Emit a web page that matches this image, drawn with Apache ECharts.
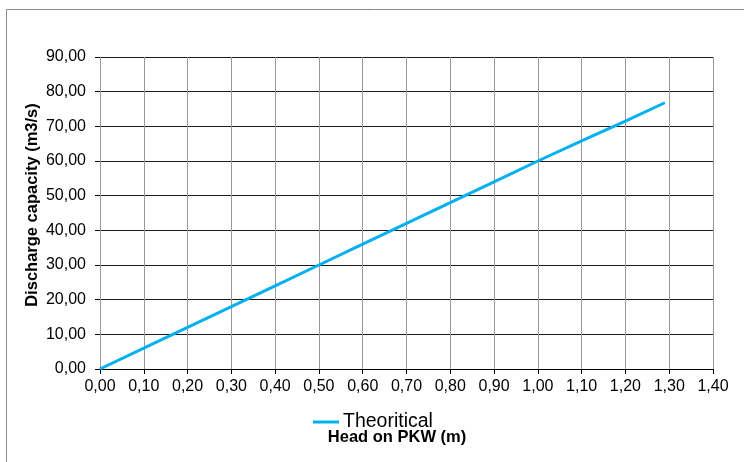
<!DOCTYPE html>
<html><head><meta charset="utf-8">
<script src="https://cdn.jsdelivr.net/npm/echarts@6/dist/echarts.min.js"></script>
<style>html,body{margin:0;padding:0;background:#fff}#c{width:744px;height:462px}</style>
</head><body><div id="c"></div>
<script>
const headValues = [0, 0.1, 0.2, 0.3, 0.4, 0.5, 0.6, 0.7, 0.8, 0.9, 1.0, 1.1, 1.2, 1.29];
const dischargeValues = [0, 6, 12, 18, 24, 30, 36, 42, 48, 54, 60, 65.8, 71.5, 76.8];
const seriesName = 'Theoritical';
const xTitle = 'Head on PKW (m)';
const yTitle = 'Discharge capacity (m3/s)';

const FONT = 'Liberation Sans, Arial, sans-serif';
const fmt = v => v.toFixed(2).replace('.', ',');
const chart = echarts.init(document.getElementById('c'), null, {renderer: 'canvas'});
chart.setOption({
  animation: false,
  textStyle: {fontFamily: FONT},
  graphic: [{type: 'rect', shape: {x: 6.5, y: 9.5, width: 760, height: 480}, style: {fill: 'none', stroke: '#8c8c8c', lineWidth: 1}, silent: true},
    {type: 'text', x: 397, y: 437, style: {text: xTitle, fontSize: 16.5, fontWeight: 'bold', fontFamily: FONT, fill: '#000', align: 'center', verticalAlign: 'middle'}},
    {type: 'text', x: 32, y: 205, rotation: Math.PI / 2, style: {text: yTitle, fontSize: 16.5, fontWeight: 'bold', fontFamily: FONT, fill: '#000', align: 'center', verticalAlign: 'middle'}}],
  grid: {left: 100, right: 31, top: 57, bottom: 93},
  legend: {left: 308, top: 407, icon: 'rect', itemWidth: 26, itemHeight: 3, itemGap: 4,
    textStyle: {fontSize: 19.5, color: '#000', fontFamily: FONT, padding: [0,0,0,-1]},
    data: [seriesName]},
  xAxis: {type: 'value', min: 0, max: 1.4, interval: 0.1,
    axisLine: {lineStyle: {color: '#000', width: 1}},
    axisTick: {show: true, length: 5, lineStyle: {color: '#000'}},
    axisLabel: {formatter: fmt, fontSize: 16, color: '#000', margin: 10},
    splitLine: {show: true, lineStyle: {color: '#999', width: 1}}},
  yAxis: {type: 'value', min: 0, max: 90, interval: 10,
    axisLine: {show: true, lineStyle: {color: '#999', width: 1}},
    axisTick: {show: true, length: 5, lineStyle: {color: '#000'}},
    axisLabel: {formatter: fmt, fontSize: 16, color: '#000', margin: 14},
    splitLine: {show: true, lineStyle: {color: '#1a1a1a', width: 1}}},
  series: [{name: seriesName, type: 'line', showSymbol: false, symbol: 'none',
    data: headValues.map((h, i) => [h, dischargeValues[i]]),
    lineStyle: {color: '#00B0F0', width: 3}, itemStyle: {color: '#00B0F0'}}]
});
</script></body></html>
